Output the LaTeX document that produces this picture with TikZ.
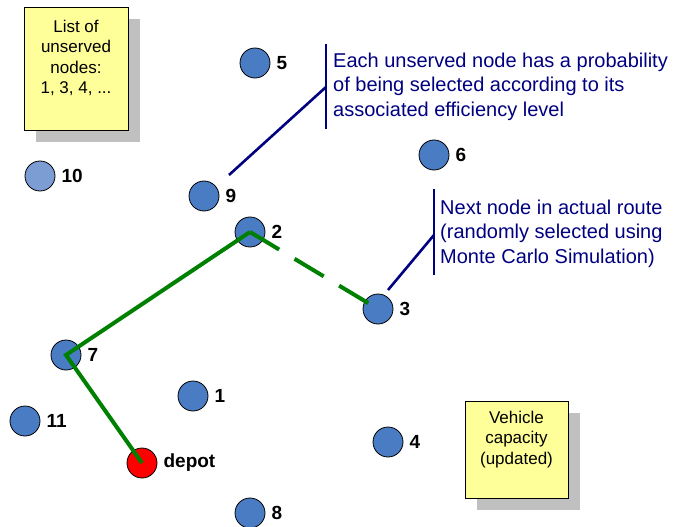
\documentclass[tikz,border=0pt]{standalone}
\usepackage{fontspec}
\setmainfont{Liberation Sans}
\usetikzlibrary{shadows}
\definecolor{nodeblue}{RGB}{74,124,196}
\definecolor{lightblue}{RGB}{124,156,212}
\definecolor{noteyellow}{RGB}{255,255,153}
\definecolor{shadowgray}{RGB}{192,192,192}
\definecolor{routegreen}{RGB}{0,128,0}
\definecolor{calloutnavy}{RGB}{0,0,128}
\begin{document}
\begin{tikzpicture}[x=1pt,y=-1pt,
  cust/.style={circle, draw=black, line width=0.8pt, fill=nodeblue, minimum size=30pt, inner sep=0pt},
  lbl/.style={font=\fontsize{19}{20}\selectfont\bfseries, inner sep=0pt, xshift=6pt},
  note/.style={draw=black, line width=0.8pt, fill=noteyellow, inner sep=0pt, anchor=north west,
    drop shadow={fill=shadowgray, opacity=1, shadow xshift=12pt, shadow yshift=-12pt}},
  notetext/.style={font=\fontsize{17}{20.5}\selectfont, align=center, inner sep=0pt, anchor=north},
  callout/.style={font=\fontsize{20}{24.5}\selectfont, text=calloutnavy, align=left, inner sep=0pt, anchor=north west},
  calloutline/.style={draw=calloutnavy, line width=2.6pt},
  route/.style={draw=routegreen, line width=4pt},
  routedash/.style={route, dash pattern=on 34pt off 18pt}
]
\useasboundingbox (0,0) rectangle (673,527);

% notes
\node[note, minimum width=104pt, minimum height=123pt] (listbox) at (24,7) {};
\node[notetext] (listtext) at (76,19.5) {List of\\unserved\\nodes:\\1, 3, 4, ...};
\node[note, minimum width=103pt, minimum height=97pt] (capbox) at (465,401) {};
\node[notetext] (captext) at (516.5,410.5) {Vehicle\\capacity\\(updated)};

% customers
\node[cust, label={[lbl]east:5}] (n5) at (255,63) {};
\node[cust, label={[lbl]east:6}] (n6) at (434,155) {};
\node[cust, fill=lightblue, label={[lbl]east:10}] (n10) at (40,176) {};
\node[cust, label={[lbl]east:9}] (n9) at (204,196) {};
\node[cust, label={[lbl]east:2}] (n2) at (250,232) {};
\node[cust, label={[lbl]east:3}] (n3) at (378,309) {};
\node[cust, label={[lbl]east:7}] (n7) at (66,355) {};
\node[cust, label={[lbl]east:1}] (n1) at (193,396) {};
\node[cust, label={[lbl]east:11}] (n11) at (25,421) {};
\node[cust, label={[lbl]east:4}] (n4) at (388,442) {};
\node[cust, fill=red, label={[lbl]east:depot}] (depot) at (142,463) {};
\node[cust, label={[lbl]east:8}] (n8) at (250,513) {};

% route
\draw[route, line join=miter] (depot.center) -- (n7.center) -- (n2.center);
\draw[routedash] (n2.center) -- (n3.center);

% callouts
\node[callout] (c1text) at (333,52.5) {Each unserved node has a probability\\of being selected according to its\\associated efficiency level};
\coordinate (c1top) at (326,44);
\coordinate (c1bot) at (326,129);
\coordinate (c1mid) at (326,87);
\coordinate (c1end) at (229,175);
\draw[calloutline] (c1top) -- (c1bot);
\draw[calloutline] (c1mid) -- (c1end);

\node[callout] (c2text) at (440,199.5) {Next node in actual route\\(randomly selected using\\Monte Carlo Simulation)};
\coordinate (c2top) at (434,189);
\coordinate (c2bot) at (434,275);
\coordinate (c2mid) at (434,235);
\coordinate (c2end) at (388,290);
\draw[calloutline] (c2top) -- (c2bot);
\draw[calloutline] (c2mid) -- (c2end);
\end{tikzpicture}
\end{document}
